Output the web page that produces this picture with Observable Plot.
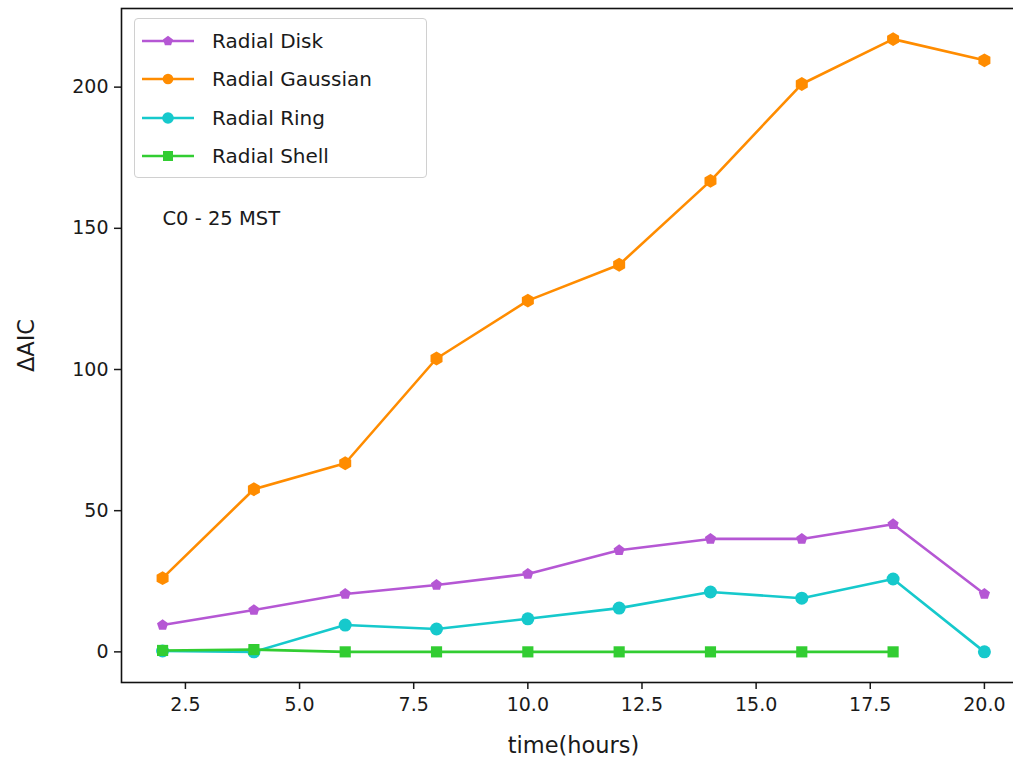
<!DOCTYPE html>
<html>
<head>
<meta charset="utf-8">
<script src="https://cdn.jsdelivr.net/npm/d3@7"></script>
<script src="https://cdn.jsdelivr.net/npm/@observablehq/plot@0.6"></script>
<style>
  html, body { margin: 0; padding: 0; background: #fff; overflow: hidden; width: 1013px; height: 763px; }
  #wrap { position: relative; width: 1013px; height: 763px; overflow: hidden; font-family: "DejaVu Sans", sans-serif; }
  #chart svg { max-width: none !important; display: block; }
  #legend { position: absolute; left: 134px; top: 18px; width: 293px; height: 160px; box-sizing: border-box;
    border: 1px solid #d0d0d0; border-radius: 4px; background: rgba(255,255,255,0.85); }
  .row { position: absolute; left: 0; height: 30px; display: flex; align-items: center; }
  .row svg { margin-left: 6px; }
  .row span { margin-left: 17px; font-size: 20px; color: #1a1a1a; }
</style>
</head>
<body>
<div id="wrap"><div id="chart"></div><div id="legend"></div></div>
<script>
const hours = [2, 4, 6, 8, 10, 12, 14, 16, 18, 20];
const seriesNames = ["Radial Disk", "Radial Gaussian", "Radial Ring", "Radial Shell"];
const disk = [9.5, 14.8, 20.5, 23.7, 27.6, 36, 40, 40, 45.2, 20.5];
const gaussian = [26.1, 57.6, 66.8, 103.9, 124.4, 137.1, 166.8, 201.1, 217, 209.5];
const ring = [0.3, 0, 9.5, 8.1, 11.7, 15.5, 21.2, 19, 25.8, 0];
const shell = [0.5, 0.8, 0, 0, 0, 0, 0, 0, 0];
const colors = ["#b557d4", "#ff8c00", "#16c9cc", "#32cd32"];
const xTicks = [2.5, 5, 7.5, 10, 12.5, 15, 17.5, 20];
const yTicks = [0, 50, 100, 150, 200];
const annotation = "C0 - 25 MST";

const pentagon = {
  draw(ctx, size) {
    const r = Math.sqrt(size / Math.PI) * 1.05;
    for (let i = 0; i < 5; i++) {
      const a = -Math.PI / 2 + i * 2 * Math.PI / 5;
      const px = r * Math.cos(a), py = r * Math.sin(a);
      if (i === 0) ctx.moveTo(px, py); else ctx.lineTo(px, py);
    }
    ctx.closePath();
  }
};
const symbols = [pentagon, "hexagon", "circle", "square"];
const radii = [5.6, 6.0, 6.5, 6.3];

const valuesList = [disk, gaussian, ring, shell];
const seriesData = valuesList.map((vals, i) =>
  vals.map((v, j) => ({ time: hours[j], value: v, series: seriesNames[i] })));

const marks = [
  Plot.axisX({ ticks: xTicks, tickFormat: d3.format(".1f"), tickSize: 7, tickPadding: 8, label: null, fontSize: 19, strokeWidth: 1.5 }),
  Plot.axisY({ ticks: yTicks, tickFormat: d3.format("d"), tickSize: 7, tickPadding: 6, label: null, fontSize: 19, strokeWidth: 1.5 }),
];
seriesData.forEach((d, i) => {
  marks.push(Plot.line(d, { x: "time", y: "value", stroke: colors[i], strokeWidth: 2.6 }));
  marks.push(Plot.dot(d, { x: "time", y: "value", fill: colors[i], stroke: "none", symbol: () => symbols[i], r: radii[i] }));
});
marks.push(Plot.frame({ stroke: "#111", strokeWidth: 1.6 }));
marks.push(Plot.text([annotation], { frameAnchor: "top-left", dx: 41, dy: 203, textAnchor: "start", fontSize: 19.5, fill: "#1a1a1a" }));
marks.push(Plot.text(["time(hours)"], { frameAnchor: "bottom", dy: 70, textAnchor: "middle", fontSize: 22.5, fill: "#1a1a1a" }));
marks.push(Plot.text(["ΔAIC"], { frameAnchor: "left", dx: -95, rotate: -90, textAnchor: "middle", fontSize: 22.5, fill: "#1a1a1a" }));

const chart = Plot.plot({
  width: 1026,
  height: 763,
  marginLeft: 121,
  marginRight: 1,
  marginTop: 8,
  marginBottom: 81,
  x: { domain: [1.1, 20.9] },
  y: { domain: [-10.85, 227.85] },
  style: { fontFamily: "DejaVu Sans, sans-serif", color: "#1a1a1a", background: "#fff", maxWidth: "none" },
  marks
});
document.getElementById("chart").appendChild(chart);

// Legend
const legend = document.getElementById("legend");
seriesNames.forEach((name, i) => {
  const row = document.createElement("div");
  row.className = "row";
  row.style.top = (7 + i * 38.3) + "px";
  const sw = d3.create("svg").attr("width", 54).attr("height", 30);
  sw.append("line").attr("x1", 1).attr("x2", 53).attr("y1", 15).attr("y2", 15)
    .attr("stroke", colors[i]).attr("stroke-width", 2.6);
  const sym = typeof symbols[i] === "string"
    ? { hexagon: d3.symbolHexagon || d3.symbolCircle, circle: d3.symbolCircle, square: d3.symbolSquare }[symbols[i]]
    : symbols[i];
  const path = d3.symbol(sym, radii[i] * radii[i] * Math.PI * 0.8)();
  sw.append("path").attr("d", path).attr("transform", "translate(27,15)").attr("fill", colors[i]);
  row.appendChild(sw.node());
  const t = document.createElement("span");
  t.textContent = name;
  row.appendChild(t);
  legend.appendChild(row);
});
</script>
</body>
</html>
